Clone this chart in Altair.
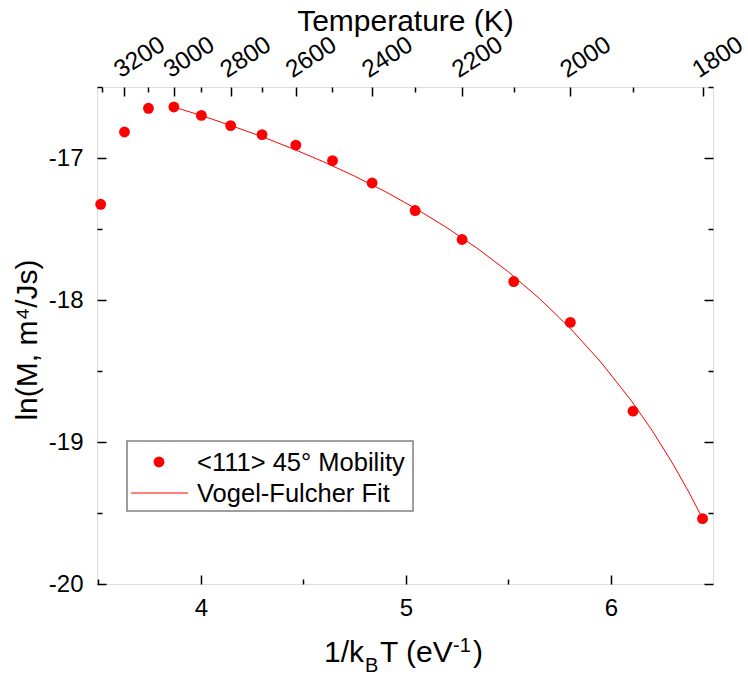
import altair as alt
import pandas as pd

# ---------------- data ----------------
series = ["<111> 45° Mobility", "Vogel-Fulcher Fit"]

# measured mobility points: 1/kBT (eV^-1) and ln(M)
inv_kT = [3.511, 3.627, 3.744, 3.868, 4.002, 4.145, 4.298, 4.463,
          4.642, 4.835, 5.045, 5.274, 5.526, 5.802, 6.108, 6.447]
ln_M = [-17.326, -16.817, -16.650, -16.641, -16.700, -16.772, -16.835, -16.909,
        -17.018, -17.176, -17.370, -17.574, -17.870, -18.158, -18.783, -19.540]

# Vogel-Fulcher fit curve
fit_inv_kT = [3.868, 4.00, 4.15, 4.30, 4.45, 4.60, 4.75, 4.90, 5.05, 5.20,
              5.35, 5.50, 5.65, 5.80, 5.95, 6.10, 6.20, 6.30, 6.38, 6.447]
fit_ln_M = [-16.641, -16.700, -16.773, -16.851, -16.936, -17.028, -17.128,
            -17.237, -17.358, -17.491, -17.638, -17.802, -17.988, -18.197,
            -18.436, -18.710, -18.917, -19.148, -19.353, -19.538]

# tick values
x_major = [4, 5, 6]
x_minor = [3.5, 4.5, 5.5, 6.5]
y_major = [-20, -19, -18, -17]
y_minor = [-19.5, -18.5, -17.5, -16.5]
temp_major = [3200, 3000, 2800, 2600, 2400, 2200, 2000, 1800]
temp_minor = [3300, 3100, 2900, 2700, 2500, 2300, 2100, 1900]

KB = 8.617333e-5
top_major_pos = [1.0 / (KB * t) for t in temp_major]
top_minor_pos = [1.0 / (KB * t) for t in temp_minor]

# ---------------- layout ----------------
W, H = 616, 497
FONT = "Liberation Sans"
RED = "#ff0000"
xs = alt.Scale(domain=[3.493, 6.498], nice=False, zero=False)
ys = alt.Scale(domain=[-20, -16.5], nice=False, zero=False)

df_pts = pd.DataFrame({"x": inv_kT, "y": ln_M})
df_fit = pd.DataFrame({"x": fit_inv_kT, "y": fit_ln_M})


def tick_axis(orient, values, size):
    return alt.Axis(orient=orient, values=values, labels=False, domain=False,
                    grid=False, ticks=True, tickSize=size, tickWidth=1.5,
                    tickColor="black", offset=-size, title=None)


pts = alt.Chart(df_pts).mark_circle(size=118, color=RED, opacity=1).encode(
    x=alt.X("x:Q", scale=xs, axis=alt.Axis(
        orient="bottom", values=x_major, ticks=False, domain=False, grid=False,
        labelPadding=12, labelFontSize=24, labelFont=FONT, labelColor="black",
        offset=0, title=None)),
    y=alt.Y("y:Q", scale=ys, axis=alt.Axis(
        orient="left", values=y_major, ticks=False, domain=False, grid=False,
        labelPadding=14, labelFontSize=24, labelFont=FONT, labelColor="black",
        labelExpr="datum.value + ''", offset=0,
        title="ln(M, m⁴/Js)", titleFont=FONT, titleFontSize=30,
        titleFontWeight="normal", titleColor="black", titleAngle=-90,
        titleX=-70, titleY=H / 2 + 4, titleAlign="center", titleBaseline="middle")),
)

fit = alt.Chart(df_fit).mark_line(color=RED, strokeWidth=1).encode(
    x=alt.X("x:Q", scale=xs, axis=tick_axis("bottom", x_major, 9)),
    y=alt.Y("y:Q", scale=ys, axis=tick_axis("left", y_major, 9)),
)

ax_minor_bl = alt.Chart(df_pts).mark_point(opacity=0).encode(
    x=alt.X("x:Q", scale=xs, axis=tick_axis("bottom", x_minor, 5)),
    y=alt.Y("y:Q", scale=ys, axis=tick_axis("left", y_minor, 5)),
)

ax_top = alt.Chart(df_pts).mark_point(opacity=0).encode(
    x=alt.X("x:Q", scale=xs, axis=alt.Axis(
        orient="top", values=top_major_pos, ticks=False, domain=False, grid=False,
        labelExpr="format(1 / (8.617333e-5 * datum.value), '.0f')",
        labelAngle=-33, labelAlign="left", labelBaseline="alphabetic",
        labelPadding=9, labelOffset=-4, labelFontSize=24.5, labelFont=FONT,
        labelColor="black", labelOverlap=False, labelBound=False, offset=0,
        title="Temperature (K)", titleFont=FONT, titleFontSize=30,
        titleFontWeight="normal", titleColor="black",
        titleX=W / 2, titleY=-57, titleAlign="center", titleBaseline="alphabetic")),
    y=alt.Y("y:Q", scale=ys, axis=tick_axis("right", y_major, 9)),
)

ax_top_major = alt.Chart(df_pts).mark_point(opacity=0).encode(
    x=alt.X("x:Q", scale=xs, axis=tick_axis("top", top_major_pos, 9)),
    y=alt.Y("y:Q", scale=ys, axis=tick_axis("right", y_minor, 5)),
)

ax_top_minor = alt.Chart(df_pts).mark_point(opacity=0).encode(
    x=alt.X("x:Q", scale=xs, axis=tick_axis("top", top_minor_pos, 5)),
    y=alt.Y("y:Q", scale=ys, axis=None),
)


def txt(s, x, y, size):
    return alt.Chart(pd.DataFrame({"t": [s]})).mark_text(
        font=FONT, fontSize=size, align="left", baseline="alphabetic", color="black"
    ).encode(text="t:N", x=alt.value(x), y=alt.value(y))


# x-axis title: 1/k_B T (eV^-1)
title_parts = [
    txt("1/k", 227, 575, 30),
    txt("B", 268, 585, 20),
    txt("T (eV", 283, 575, 30),
    txt("-1", 356, 565, 20),
    txt(")", 376, 575, 30),
]

# legend box (drawn as marks so the two entries can use different symbols)
one = pd.DataFrame({"k": [0]})
leg_box = alt.Chart(one).mark_rect(fill="white", stroke="#808080", strokeWidth=1.5).encode(
    x=alt.value(30), x2=alt.value(316), y=alt.value(354), y2=alt.value(424))
leg_dot = alt.Chart(one).mark_circle(size=118, color=RED, opacity=1).encode(
    x=alt.value(62), y=alt.value(375))
leg_line = alt.Chart(one).mark_rule(color=RED, strokeWidth=1).encode(
    x=alt.value(34), x2=alt.value(91), y=alt.value(406))
leg_txt = [txt(series[0], 100, 384, 25.5), txt(series[1], 100, 415, 25.5)]

chart = alt.layer(
    fit, ax_minor_bl, ax_top, ax_top_major, ax_top_minor, pts, *title_parts,
    leg_box, leg_dot, leg_line, *leg_txt
).resolve_axis(
    x="independent", y="independent"
).properties(
    width=W, height=H,
    autosize=alt.AutoSizeParams(type="none"),
    padding={"left": 97, "top": 87, "right": 35, "bottom": 95},
).configure_view(
    stroke="#1a1a1a", strokeWidth=1.6
).configure(font=FONT, background="white")

chart.save("out.html", embed_options={"renderer": "svg", "actions": False})
